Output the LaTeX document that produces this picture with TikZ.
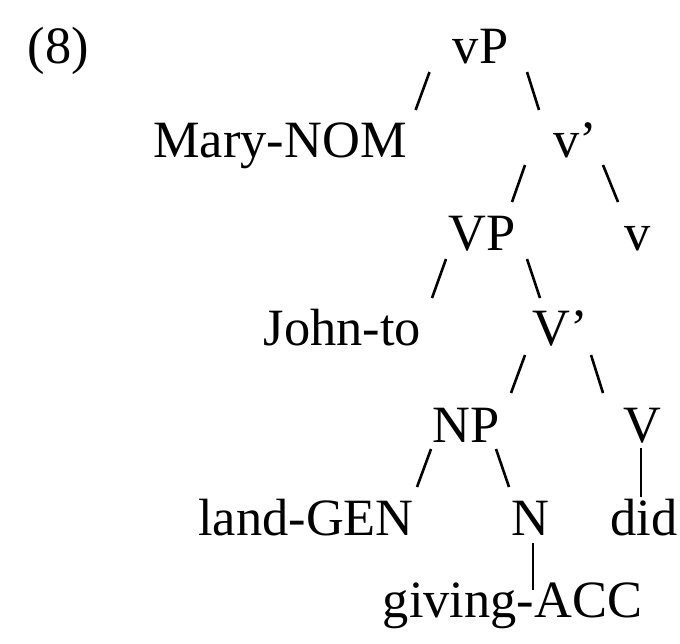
\documentclass[tikz,border=0pt]{standalone}
\usepackage{fontspec}
\setmainfont{Liberation Serif}
\usetikzlibrary{calc}

\begin{document}
\begin{tikzpicture}[x=0.25pt,y=-0.25pt,
		lbl/.style={inner sep=0pt,anchor=base,font=\fontsize{13.1}{15}\selectfont},
		branch/.style={line width=0.65pt}]
	\useasboundingbox (0,0) rectangle (680,643);
	% example number and the labels, row by row
	\node[lbl] (ex) at (58.5,63) {(8)};
	\node[lbl] (vP) at (480.5,63) {vP};
	\node[lbl] (mary) at (280,157) {Mary-NOM};
	\node[lbl] (vbar) at (575,157) {v'};
	\node[lbl] (VP) at (482,250) {VP};
	\node[lbl] (v) at (638,250) {v};
	\node[lbl] (john) at (342.5,345) {John-to};
	\node[lbl] (Vbar) at (560,345) {V'};
	\node[lbl] (NP) at (466,442) {NP};
	\node[lbl] (V) at (642,442) {V};
	\node[lbl] (land) at (306,535) {land-GEN};
	\node[lbl] (N) at (530,535) {N};
	\node[lbl] (did) at (644,535) {did};
	\node[lbl] (giving) at (512.5,617) {giving-ACC};
	% short branches between mother and daughters
	\draw[branch]
		($(vP.base) + (-51,9)$) -- ($(mary.base) + (135.6,-47)$)
		($(vP.base) + (46.5,9)$) -- ($(vbar.base) + (-36,-47)$)
		($(vbar.base) + (-50,8)$) -- ($(VP.base) + (30,-48)$)
		($(vbar.base) + (28,8)$) -- ($(v.base) + (-20,-48)$);
	\draw[branch]
		($(VP.base) + (-36,9)$) -- ($(john.base) + (89.5,-47)$)
		($(VP.base) + (45,9)$) -- ($(Vbar.base) + (-20,-47)$)
		($(Vbar.base) + (-35,10)$) -- ($(NP.base) + (45,-49)$)
		($(Vbar.base) + (31,10)$) -- ($(V.base) + (-39,-49)$);
	\draw[branch]
		($(NP.base) + (-35,7)$) -- ($(land.base) + (111,-48)$)
		($(NP.base) + (30,7)$) -- ($(N.base) + (-21,-48)$);
	\draw[branch] ($(V.base) + (-1,6)$) -- ($(did.base) + (-3,-38)$);
	\draw[branch] ($(N.base) + (3,8)$) -- ($(giving.base) + (20.5,-27)$);
\end{tikzpicture}
\end{document}
